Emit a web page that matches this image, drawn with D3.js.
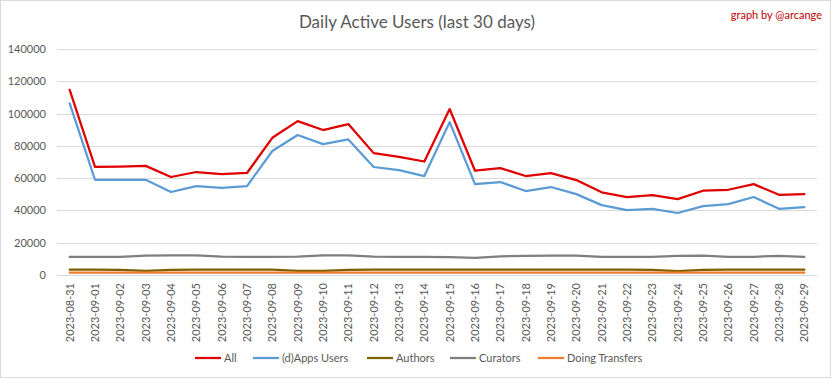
<!DOCTYPE html>
<html><head><meta charset="utf-8">
<script src="https://cdn.jsdelivr.net/npm/d3@7"></script>
<style>
html,body{margin:0;padding:0;background:#fff;}
svg{display:block;font-family:Lato,"Open Sans",sans-serif;}
</style></head>
<body><svg id="c" width="833" height="379"></svg>
<script>
const dates = ["2023-08-31","2023-09-01","2023-09-02","2023-09-03","2023-09-04","2023-09-05","2023-09-06","2023-09-07","2023-09-08","2023-09-09","2023-09-10","2023-09-11","2023-09-12","2023-09-13","2023-09-14","2023-09-15","2023-09-16","2023-09-17","2023-09-18","2023-09-19","2023-09-20","2023-09-21","2023-09-22","2023-09-23","2023-09-24","2023-09-25","2023-09-26","2023-09-27","2023-09-28","2023-09-29"];
const allUsers = [114700,67000,67200,67600,60700,63800,62500,63200,85000,95300,89800,93500,75500,73200,70300,102800,64600,66200,61300,63100,58800,51200,48300,49500,47000,52200,52800,56300,49700,50100];
const appsUsers = [106300,59000,59000,59000,51400,55100,53900,55100,76800,86700,81100,84000,66900,65000,61300,94700,56300,57600,52000,54500,50100,43300,40200,40900,38400,42700,43900,48300,41000,42100];
const authors = [3300,3300,3200,2500,3200,3300,3300,3300,3300,2600,2600,3200,3300,3300,3300,3300,3300,3300,3300,3300,3300,3300,3300,3200,2400,3200,3300,3300,3300,3300];
const curators = [11200,11200,11300,12000,12100,12100,11400,11200,11200,11400,12100,12100,11400,11300,11300,11000,10600,11600,11900,12000,12000,11300,11200,11200,11800,12000,11300,11300,11900,11200];
const transfers = [1500,1500,1500,1500,1500,1500,1500,1500,1500,1500,1500,1500,1500,1500,1500,1500,1500,1500,1500,1500,1500,1500,1500,1500,1500,1500,1500,1500,1500,1500];
const seriesNames = ["All","(d)Apps Users","Authors","Curators","Doing Transfers"];
const yTicks = [0,20000,40000,60000,80000,100000,120000,140000];

const colors = ["#e00000","#5b9bd5","#7f6000","#7f7f7f","#ed7d31"];
const seriesData = [allUsers, appsUsers, authors, curators, transfers];

const svg = d3.select("#c");
svg.append("rect").attr("x",0.5).attr("y",0.5).attr("width",830).attr("height",377)
  .attr("fill","#fff").attr("stroke","#d9d9d9");

const x = d3.scaleBand().domain(dates).range([57,817]);
const y = d3.scaleLinear().domain([0,140000]).range([275,49]);

// gridlines
svg.append("g").selectAll("line").data(yTicks).join("line")
  .attr("x1",57).attr("x2",817)
  .attr("y1",d=>Math.round(y(d))+0.5).attr("y2",d=>Math.round(y(d))+0.5)
  .attr("stroke","#d9d9d9").attr("stroke-width",1);

// y axis labels
const yAxis = d3.axisLeft(y).tickValues(yTicks).tickSize(0).tickPadding(0).tickFormat(d3.format("d"));
const gy = svg.append("g").attr("transform","translate(46,0)").call(yAxis);
gy.select(".domain").remove();
gy.selectAll("text").attr("fill","#595959").attr("font-size","11px").attr("font-family","Lato");

// x axis labels
const xAxis = d3.axisBottom(x).tickSize(0).tickPadding(0);
const gx = svg.append("g").attr("transform","translate(0,283)").call(xAxis);
gx.select(".domain").remove();
gx.selectAll("text").attr("fill","#595959").attr("font-size","11px").attr("font-family","Lato")
  .attr("transform","rotate(-90)").attr("text-anchor","end").attr("dy","0.35em").attr("x",0).attr("y",0);

// lines
const line = d3.line().x((d,i)=>x(dates[i])+x.bandwidth()/2).y(d=>y(d));
svg.append("g").selectAll("path").data(seriesData).join("path")
  .attr("d",d=>line(d)).attr("fill","none")
  .attr("stroke",(d,i)=>colors[i]).attr("stroke-width",2.25)
  .attr("stroke-linejoin","round").attr("stroke-linecap","round");

// title
svg.append("text").attr("x",417).attr("y",28).attr("text-anchor","middle")
  .attr("font-size","17px").attr("fill","#595959").text("Daily Active Users (last 30 days)");
svg.append("text").attr("x",822).attr("y",19).attr("text-anchor","end")
  .attr("font-size","11px").attr("fill","#c00000").text("graph by @arcange");

// legend
const legX = [195,253,367,450,538];
const leg = svg.append("g").selectAll("g").data(seriesNames).join("g")
  .attr("transform",(d,i)=>`translate(${legX[i]},358)`);
leg.append("line").attr("x1",0).attr("x2",26).attr("y1",0).attr("y2",0)
  .attr("stroke",(d,i)=>colors[i]).attr("stroke-width",2.25);
leg.append("text").attr("x",29).attr("y",0).attr("dy","0.35em")
  .attr("font-size","11px").attr("fill","#595959").text(d=>d);
</script></body></html>
